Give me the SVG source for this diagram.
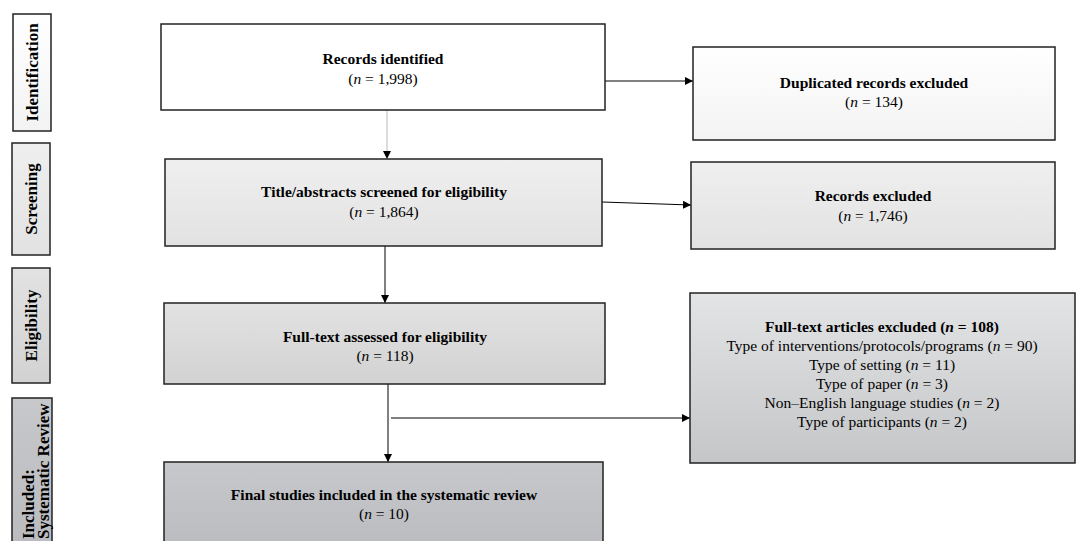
<svg xmlns="http://www.w3.org/2000/svg" width="1089" height="541" viewBox="0 0 1089 541">
<defs>
<linearGradient id="g0" x1="0" y1="0" x2="0" y2="1"><stop offset="0" stop-color="#ffffff"/><stop offset="1" stop-color="#f3f3f3"/></linearGradient>
<linearGradient id="g1" x1="0" y1="0" x2="0" y2="1"><stop offset="0" stop-color="#efefef"/><stop offset="1" stop-color="#e2e2e2"/></linearGradient>
<linearGradient id="g2" x1="0" y1="0" x2="0" y2="1"><stop offset="0" stop-color="#e2e2e2"/><stop offset="1" stop-color="#d2d2d2"/></linearGradient>
<linearGradient id="g3" x1="0" y1="0" x2="0" y2="1"><stop offset="0" stop-color="#c7c8cb"/><stop offset="1" stop-color="#babbbe"/></linearGradient>
<linearGradient id="g4" x1="0" y1="0" x2="0" y2="1"><stop offset="0" stop-color="#e3e4e6"/><stop offset="1" stop-color="#c5c6c8"/></linearGradient>
<marker id="ah" viewBox="0 0 10 10" refX="10" refY="5" markerWidth="8" markerHeight="8" markerUnits="userSpaceOnUse" orient="auto"><path d="M0,0 L10,5 L0,10 z" fill="#000"/></marker>
</defs>
<style>
.box{stroke:#222;stroke-width:1.5}
.t{font-family:"Liberation Serif","Times New Roman",serif;font-size:15.5px;fill:#000;text-anchor:middle}
.b{font-weight:bold}
.st{font-family:"Liberation Serif","Times New Roman",serif;font-size:17px;font-weight:bold;fill:#000;text-anchor:middle}
.sts{text-anchor:start}
.c{fill:none;stroke:#000;stroke-width:1}
</style>
<g id="stage-identification"><rect class="box" x="13" y="14" width="38" height="117" fill="url(#g0)"/><text class="st" transform="translate(38,72.5) rotate(-90)">Identification</text></g>
<g id="stage-screening"><rect class="box" x="12" y="143" width="38" height="112" fill="url(#g1)"/><text class="st" transform="translate(37,199) rotate(-90)">Screening</text></g>
<g id="stage-eligibility"><rect class="box" x="12" y="268" width="38" height="115" fill="url(#g2)"/><text class="st" transform="translate(37,325.5) rotate(-90)">Eligibility</text></g>
<g id="stage-included"><rect class="box" x="12" y="398" width="40" height="150" fill="url(#g3)"/><text class="st sts" transform="translate(34,539) rotate(-90)">Included:</text><text class="st sts" transform="translate(48.5,539) rotate(-90)">Systematic Review</text></g>

<g id="connectors">
<line x1="387" y1="110" x2="387" y2="152" stroke="#bbb" stroke-width="1"/>
<path d="M387,159 l-4,-8 l8,0 z" fill="#000"/>
<line class="c" x1="605" y1="81" x2="693" y2="81" marker-end="url(#ah)"/>
<line class="c" x1="602" y1="202" x2="691" y2="205" marker-end="url(#ah)"/>
<line class="c" x1="385" y1="246" x2="385" y2="303" marker-end="url(#ah)"/>
<line class="c" x1="388" y1="384" x2="388" y2="462" marker-end="url(#ah)"/>
<line class="c" x1="391" y1="418" x2="690" y2="418" marker-end="url(#ah)"/>
</g>

<g id="n-records"><rect class="box" x="161" y="24" width="444" height="86" fill="#fff"/><text class="t b" x="383" y="64">Records identified</text><text class="t" x="383" y="83.5">(<tspan font-style="italic">n</tspan> = 1,998)</text></g>
<g id="n-duplicated"><rect class="box" x="693" y="47" width="362" height="93" fill="url(#g0)"/><text class="t b" x="874" y="88">Duplicated records excluded</text><text class="t" x="874" y="107">(<tspan font-style="italic">n</tspan> = 134)</text></g>
<g id="n-title"><rect class="box" x="165" y="159" width="437" height="87" fill="url(#g1)"/><text class="t b" x="384" y="197">Title/abstracts screened for eligibility</text><text class="t" x="384" y="216.5">(<tspan font-style="italic">n</tspan> = 1,864)</text></g>
<g id="n-records-excluded"><rect class="box" x="691" y="162" width="364" height="87" fill="url(#g1)"/><text class="t b" x="873" y="201">Records excluded</text><text class="t" x="873" y="220.5">(<tspan font-style="italic">n</tspan> = 1,746)</text></g>
<g id="n-fulltext"><rect class="box" x="164" y="303" width="441" height="81" fill="url(#g2)"/><text class="t b" x="385" y="342">Full-text assessed for eligibility</text><text class="t" x="385" y="361">(<tspan font-style="italic">n</tspan> = 118)</text></g>
<g id="n-fulltext-excluded"><rect class="box" x="690" y="293" width="385" height="170" fill="url(#g4)"/>
<text class="t b" x="882" y="332">Full-text articles excluded (<tspan font-style="italic">n</tspan> = 108)</text>
<text class="t" x="882" y="351">Type of interventions/protocols/programs (<tspan font-style="italic">n</tspan> = 90)</text>
<text class="t" x="882" y="370">Type of setting (<tspan font-style="italic">n</tspan> = 11)</text>
<text class="t" x="882" y="389">Type of paper (<tspan font-style="italic">n</tspan> = 3)</text>
<text class="t" x="882" y="408">Non–English language studies (<tspan font-style="italic">n</tspan> = 2)</text>
<text class="t" x="882" y="427">Type of participants (<tspan font-style="italic">n</tspan> = 2)</text></g>
<g id="n-final"><rect class="box" x="164" y="462" width="439" height="90" fill="url(#g3)"/><text class="t b" x="384" y="500">Final studies included in the systematic review</text><text class="t" x="384" y="519">(<tspan font-style="italic">n</tspan> = 10)</text></g>
</svg>
